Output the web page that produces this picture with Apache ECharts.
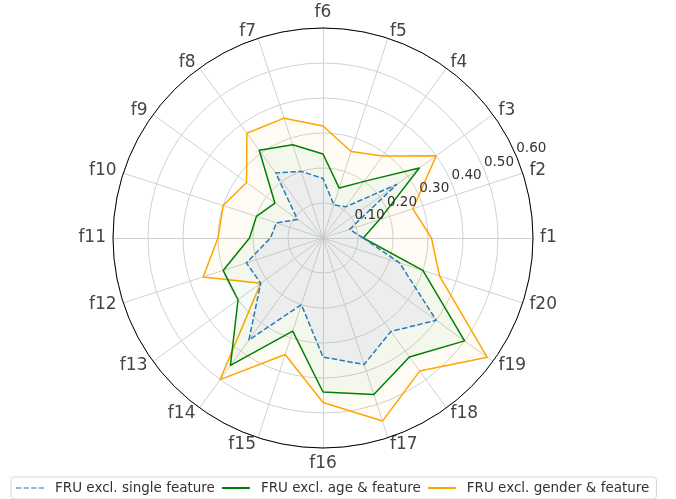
<!DOCTYPE html>
<html>
<head>
<meta charset="utf-8">
<script src="https://cdn.jsdelivr.net/npm/echarts@6/dist/echarts.min.js"></script>
<style>
  html, body { margin: 0; padding: 0; background: #fff; }
  #chart { width: 676px; height: 499px; }
</style>
</head>
<body>
<div id="chart"></div>
<script>
// features, going round counter-clockwise from the right
var features = ['f1','f2','f3','f4','f5','f6','f7','f8','f9','f10',
                'f11','f12','f13','f14','f15','f16','f17','f18','f19','f20'];
var rTicks = [0, 0.1, 0.2, 0.3, 0.4, 0.5, 0.6];

var seriesNames = ['FRU excl. single feature', 'FRU excl. age & feature', 'FRU excl. gender & feature'];
var singleFeature = [0.115, 0.08, 0.26, 0.11, 0.10, 0.17, 0.20, 0.23, 0.09, 0.14,
                     0.15, 0.23, 0.22, 0.36, 0.20, 0.34, 0.38, 0.33, 0.40, 0.23];
var ageFeature    = [0.115, 0.17, 0.34, 0.20, 0.15, 0.24, 0.28, 0.31, 0.17, 0.20,
                     0.21, 0.30, 0.30, 0.45, 0.28, 0.44, 0.47, 0.42, 0.50, 0.30];
var genderFeature = [0.31, 0.27, 0.40, 0.29, 0.26, 0.32, 0.36, 0.37, 0.27, 0.30,
                     0.30, 0.36, 0.22, 0.50, 0.35, 0.47, 0.55, 0.47, 0.58, 0.35];

var chart = echarts.init(document.getElementById('chart'));
var font = 'DejaVu Sans';
var rMax = rTicks[rTicks.length - 1];

var option = {
  animation: false,
  legend: {
    left: 11,
    top: 477,
    padding: [4, 7, 4, 5],
    itemGap: 7,
    itemWidth: 28,
    itemHeight: 2,
    borderColor: '#d6d6d6',
    borderWidth: 1,
    borderRadius: 3,
    textStyle: { fontFamily: font, fontSize: 13.5, color: '#333', padding: [0, 0, 0, 6] },
    data: [
      { name: seriesNames[0], icon: 'path://M0,0h5.5v1h-5.5z M7.9,0h5.5v1h-5.5z M15.8,0h5.5v1h-5.5z M23.7,0h5.5v1h-5.5z' },
      { name: seriesNames[1], icon: 'rect' },
      { name: seriesNames[2], icon: 'rect' }
    ]
  },
  // outer black circle + radial tick labels at 22.5 deg
  polar: { center: [323, 238], radius: 210 },
  angleAxis: {
    type: 'value', min: 0, max: 360, startAngle: 22.5, z: 5,
    axisLine: { show: true, lineStyle: { color: '#000', width: 1 } },
    axisTick: { show: false }, axisLabel: { show: false }, splitLine: { show: false }
  },
  radiusAxis: {
    min: 0, max: rMax, interval: 0.1, z: 5,
    axisLine: { show: false }, axisTick: { show: false }, splitLine: { show: false },
    axisLabel: {
      margin: 2, align: 'left', verticalAlign: 'bottom', rotate: 0,
      fontFamily: font, fontSize: 13.5, color: '#333',
      formatter: function (v) { return v === 0 ? '' : v.toFixed(2); }
    }
  },
  radar: {
    center: [323, 238],
    radius: 210,
    startAngle: 0,
    shape: 'circle',
    splitNumber: rTicks.length - 1,
    nameGap: 7,
    axisName: { fontFamily: font, fontSize: 17, color: '#444' },
    indicator: features.map(function (f) { return { name: f, min: 0, max: rMax }; }),
    axisLine: { lineStyle: { color: '#d0d0d0', width: 1 } },
    splitLine: { lineStyle: { color: '#d0d0d0', width: 1 } },
    splitArea: { show: false },
    axisTick: { show: false },
    axisLabel: { show: false }
  },
  series: [
    {
      type: 'radar',
      name: seriesNames[2],
      symbol: 'none',
      z: 2,
      lineStyle: { color: '#ffa500', width: 1.5 },
      itemStyle: { color: '#ffa500' },
      areaStyle: { color: 'rgba(255,165,0,0.05)' },
      data: [{ name: seriesNames[2], value: genderFeature }]
    },
    {
      type: 'radar',
      name: seriesNames[1],
      symbol: 'none',
      z: 3,
      lineStyle: { color: '#008000', width: 1.5 },
      itemStyle: { color: '#008000' },
      areaStyle: { color: 'rgba(0,128,0,0.06)' },
      data: [{ name: seriesNames[1], value: ageFeature }]
    },
    {
      type: 'radar',
      name: seriesNames[0],
      symbol: 'none',
      z: 4,
      lineStyle: { color: '#1f77b4', width: 1.5, type: [5.5, 2.4] },
      itemStyle: { color: '#1f77b4' },
      areaStyle: { color: 'rgba(185,183,235,0.2)' },
      data: [{ name: seriesNames[0], value: singleFeature }]
    }
  ]
};

chart.setOption(option);
</script>
</body>
</html>
